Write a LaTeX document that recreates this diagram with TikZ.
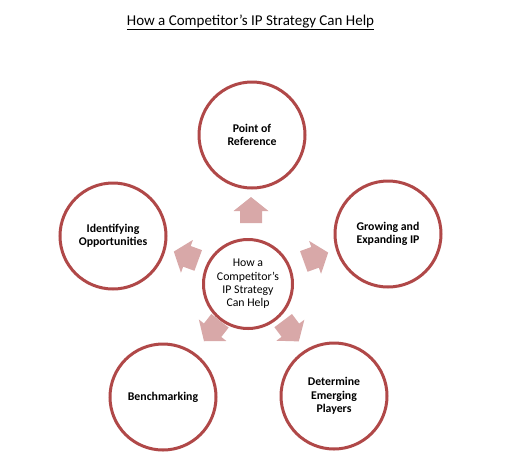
\documentclass[tikz,border=0pt]{standalone}
\usepackage{fontspec}
\setmainfont{Carlito}
\usetikzlibrary{calc}
\definecolor{ringred}{RGB}{176,72,72}
\definecolor{arrowpink}{RGB}{216,168,168}
\tikzset{
  ring/.style={circle, draw=ringred, line width=3pt, fill=white, minimum size=#1, inner sep=0pt, align=center, font=\fontsize{11.8}{13.3}\selectfont\bfseries},
  hub/.style={circle, draw=ringred, line width=3pt, fill=white, minimum size=89pt, inner sep=0pt, align=center, font=\fontsize{11.8}{13.3}\selectfont},
  blockarrow/.style={fill=arrowpink, draw=none}
}
\newcommand\pinkarrow[3]{% #1 name, #2 position, #3 angle
  \coordinate (#1) at #2;
  \fill[blockarrow, shift={(#1)}, rotate=#3]
    (13,0) -- (-1,17.5) -- (-1,11) -- (-13,11) -- (-13,-11) -- (-1,-11) -- (-1,-17.5) -- cycle;
}
\begin{document}
\begin{tikzpicture}[x=1pt,y=-1pt]
\useasboundingbox (0,0) rectangle (508,475);
\node[font=\fontsize{15}{17}\selectfont] (title) at (250.5,22) {\underline{How a Competitor’s IP Strategy Can Help}};
\node[hub] (hub) at (248,284) {How a\\Competitor’s\\IP Strategy\\Can Help};
\node[ring=106pt] (ref) at (252,135) {Point of\\Reference};
\node[ring=106pt] (opp) at (113,236) {Identifying\\Opportunities};
\node[ring=106pt] (grow) at (388,234) {Growing and\\Expanding IP};
\node[ring=106pt] (bench) at (163,397) {Benchmarking};
\node[ring=106pt] (emerg) at (334,396) {Determine\\Emerging\\Players};
\pinkarrow{a1}{(251,210)}{90}
\pinkarrow{a2}{(186,256)}{160}
\pinkarrow{a3}{(316,257)}{20}
\pinkarrow{a4}{(212,331)}{-128}
\pinkarrow{a5}{(291,331)}{-53}
\end{tikzpicture}
\end{document}
